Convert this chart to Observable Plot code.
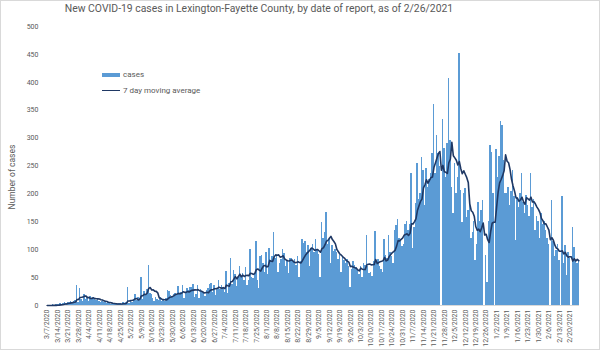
<!DOCTYPE html>
<html><head><meta charset="utf-8">
<script src="https://cdn.jsdelivr.net/npm/d3@7"></script>
<script src="https://cdn.jsdelivr.net/npm/@observablehq/plot@0.6"></script>
<style>
body{margin:0;background:#fff;}
#wrap{position:relative;width:600px;height:350px;overflow:hidden;font-family:Roboto,sans-serif;color:#595959;}
#frame{position:absolute;left:0;top:0;width:600px;height:350px;box-sizing:border-box;border:1px solid #d9d9d9;pointer-events:none;}
#title{position:absolute;top:2px;left:0;width:518px;text-align:center;font-size:10.4px;white-space:nowrap;}
#ylab{position:absolute;left:12px;top:177px;transform:translate(-50%,-50%) rotate(-90deg);font-size:8.5px;white-space:nowrap;}
.leg{position:absolute;left:102px;font-size:8px;display:flex;align-items:center;white-space:nowrap;}
.sw{display:inline-block;width:18px;margin-right:3px;}
#chart svg{position:absolute;left:0;top:0;}
</style></head>
<body>
<div id="wrap">
  <div id="chart"></div>
  <div id="title">New COVID-19 cases in Lexington-Fayette County, by date of report, as of 2/26/2021</div>
  <div id="ylab">Number of cases</div>
  <div class="leg" style="top:70px"><span class="sw" style="height:4px;background:#5b9bd5"></span>cases</div>
  <div class="leg" style="top:86px"><span class="sw" style="height:1.6px;background:#1f3864"></span>7 day moving average</div>
  <div id="frame"></div>
</div>
<script>
// Daily new cases by date of report, starting 3/7/2020
const mar2020 = [0,0,0,0,1,0,1, 2,1,3,2,4,5,3, 6,5,8,5,8,9,35, 6,30,10,8];
const apr2020 = [20,11,14,8,16,12,15,10,9,13, 7,6,8,5,6,4,5,3,2,3, 2,3,2,4,3,2,5,4,6,32];
const may2020 = [4,8,6,10,19,9,14,12,50,10, 25,18,28,72,22,20,12,8,15,10, 9,14,8,10,7,12,27,25,18,15, 20];
const jun2020 = [22,18,34,20,24,35,12,22,30,26, 33,32,38,15,20,35,13,28,25,22, 17,26,30,38,40,24,36,18,30,45];
const jul2020 = [28,35,32,24,61,22,40,84,38,62, 55,34,50,70,52,58,45,68,35,45, 100,50,48,55,115,45,30,88,90,75, 60];
const aug2020 = [95,55,103,78,88,131,85,90,60,75, 82,101,93,70,80,58,84,85,78,83, 72,88,50,78,118,112,115,95,108,70, 102];
const sep2020 = [110,95,118,100,92,51,148,120,130,166, 110,118,75,108,96,100,95,82,90,60, 88,80,75,82,70,33,65,78,72,68];
const oct2020 = [62,55,70,50,75,72,125,70,58,60, 52,78,133,75,82,70,65,60,118,90, 85,125,95,88,75,134,143,154,120,115, 105];
const nov2020 = [110,145,150,134,146,236,102,140,183,255, 190,200,265,242,180,245,212,225,236,272, 361,236,305,272,250,0,333,281,230,290];
const dec2020 = [407,296,211,164,254,200,230,451,206,149, 200,210,158,170,182,120,130,150,81,110, 185,150,170,188,0,90,42,150,287,275, 200];
const jan2021 = [0,280,230,267,329,323,260,200,200,212, 180,205,242,195,116,194,175,200,236,185, 164,198,180,160,236,175,190,134,160,150, 120];
const feb2021 = [164,146,150,135,120,110,0,189,115,87, 99,110,80,0,195,75,108,54,95,85, 0,140,104,80,75,78];

const firstDate = "3/7/2020";
const yTicks = [0,50,100,150,200,250,300,350,400,450,500];
const xTickLabels = ["3/7/2020","3/14/2020","3/21/2020","3/28/2020","4/4/2020","4/11/2020","4/18/2020","4/25/2020",
  "5/2/2020","5/9/2020","5/16/2020","5/23/2020","5/30/2020","6/6/2020","6/13/2020","6/20/2020","6/27/2020",
  "7/4/2020","7/11/2020","7/18/2020","7/25/2020","8/1/2020","8/8/2020","8/15/2020","8/22/2020","8/29/2020",
  "9/5/2020","9/12/2020","9/19/2020","9/26/2020","10/3/2020","10/10/2020","10/17/2020","10/24/2020","10/31/2020",
  "11/7/2020","11/14/2020","11/21/2020","11/28/2020","12/5/2020","12/12/2020","12/19/2020","12/26/2020",
  "1/2/2021","1/9/2021","1/16/2021","1/23/2021","1/30/2021","2/6/2021","2/13/2021","2/20/2021"];

const parse = d3.utcParse("%m/%d/%Y");
const start = parse(firstDate);
const series = [...mar2020,...apr2020,...may2020,...jun2020,...jul2020,...aug2020,...sep2020,...oct2020,...nov2020,...dec2020,...jan2021,...feb2021];
const rows = series.map((v,i) => {
  const d = d3.utcDay.offset(start, i);
  return {date: d, next: d3.utcDay.offset(start, i+1), mid: d3.utcHour.offset(d, 12), cases: v};
});
const xTicks = xTickLabels.map(s => d3.utcHour.offset(parse(s), 12));

const chart = Plot.plot({
  width: 600, height: 350,
  marginLeft: 46, marginRight: 21, marginTop: 26, marginBottom: 45,
  style: {fontFamily: "Roboto, sans-serif", fontSize: "7px", color: "#595959", background: "transparent", overflow: "visible"},
  x: {type: "utc", domain: [start, d3.utcDay.offset(start, series.length)], ticks: xTicks,
      tickFormat: d3.utcFormat("%-m/%-d/%Y"), tickRotate: -90, tickSize: 0, tickPadding: 4, label: null},
  y: {domain: [0, 500], ticks: yTicks, tickSize: 0, tickPadding: 8, label: null},
  marks: [
    Plot.rectY(rows, {x1: "date", x2: "next", y: "cases", fill: "#5b9bd5", shapeRendering: "crispEdges"}),
    Plot.ruleY([0], {stroke: "#d9d9d9"}),
    Plot.lineY(rows, Plot.windowY({k: 7, anchor: "end"}, {x: "mid", y: "cases", stroke: "#1f3864", strokeWidth: 1.6}))
  ]
});
document.getElementById("chart").append(chart);
</script>
</body></html>
